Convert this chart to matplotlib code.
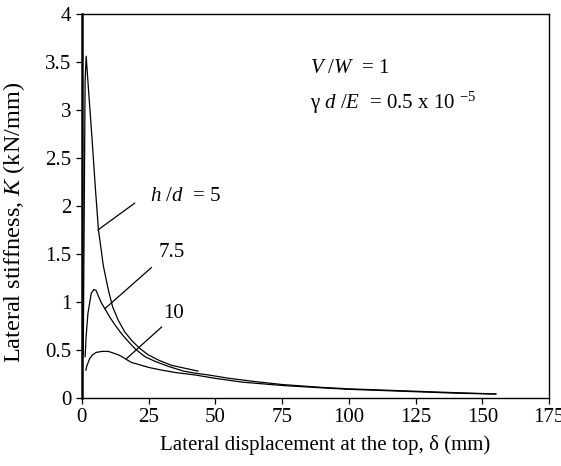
import matplotlib
matplotlib.use('Agg')
import matplotlib.pyplot as plt

plt.rcParams['font.family'] = ['Liberation Serif', 'DejaVu Serif']
plt.rcParams['mathtext.fontset'] = 'custom'
plt.rcParams['mathtext.rm'] = 'Liberation Serif'
plt.rcParams['mathtext.it'] = 'Liberation Serif:italic'

h5_x = [0.5, 1.2, 1.6, 2.5, 3.9, 5.0, 6.2, 6.7, 8, 9.9, 11.5, 13.6, 16, 18.6,
        21.5, 24.8, 29, 33.6, 38.5, 43.5]
h5_k = [0.45, 3.3, 3.56, 3.2, 2.66, 2.2, 1.75, 1.65, 1.38, 1.125, 0.95, 0.81,
        0.69, 0.60, 0.52, 0.45, 0.39, 0.34, 0.31, 0.28]

h75_x = [1.2, 1.6, 2.25, 3.5, 4.5, 5.3, 6.2, 7.3, 8.6, 10.5, 12.4, 14.8, 17.3,
         20, 23.6, 27.5, 32.3, 38, 42, 47.3, 55, 65, 75, 90, 100, 115, 125,
         140, 155]
h75_k = [0.43, 0.65, 0.88, 1.09, 1.13, 1.12, 1.06, 0.99, 0.93, 0.84, 0.76, 0.67,
         0.59, 0.51, 0.43, 0.38, 0.33, 0.28, 0.26, 0.24, 0.205, 0.17, 0.14,
         0.11, 0.095, 0.08, 0.07, 0.055, 0.042]

h10_x = [1.5, 1.8, 2.9, 4, 5.4, 7.5, 9.9, 11.5, 13.6, 15.3, 16.7, 18.6, 20.5,
         22.3, 25.5, 29.9, 35, 42.3, 49.8, 60, 75, 90, 100, 115, 125, 140, 155]
h10_k = [0.29, 0.33, 0.41, 0.45, 0.475, 0.485, 0.485, 0.47, 0.45, 0.425, 0.40,
         0.37, 0.355, 0.34, 0.315, 0.29, 0.265, 0.24, 0.205, 0.165, 0.13, 0.105,
         0.09, 0.075, 0.065, 0.05, 0.04]

fig = plt.figure(figsize=(5.61, 4.66), dpi=100)
ax = fig.add_axes([0.146, 0.146, 0.833, 0.824])

for xs, ks in [(h5_x, h5_k), (h75_x, h75_k), (h10_x, h10_k)]:
    ax.plot(xs, ks, color='black', lw=0.9)

# curve labels with leader lines
fs = 15
line = dict(arrowstyle='-', color='black', lw=0.9, shrinkA=0, shrinkB=0)
ax.annotate('', xy=(6.0, 1.75), xytext=(19.8, 2.03), arrowprops=line)
ax.text(25.5, 2.1, '$h$ /$d$  = 5', fontsize=fs, va='center', ha='left')
ax.annotate('', xy=(8.6, 0.93), xytext=(26.1, 1.36), arrowprops=line)
ax.text(28.6, 1.52, '7.5', fontsize=fs, va='center', ha='left')
ax.annotate('', xy=(16.7, 0.41), xytext=(29.9, 0.74), arrowprops=line)
ax.text(30.5, 0.88, '10', fontsize=fs, va='center', ha='left')

ax.text(85.4, 3.43, '$V$ /$W$  = 1', fontsize=fs, va='center', ha='left')
ax.text(85.4, 3.07, 'γ $d$ /$E$  = 0.5 x 10 $^{-5}$', fontsize=fs,
        va='center', ha='left')

ax.set_xlim(0, 175)
ax.set_ylim(0, 4)
ax.set_xticks([0, 25, 50, 75, 100, 125, 150, 175])
ax.set_yticks([0, 0.5, 1, 1.5, 2, 2.5, 3, 3.5, 4])
ax.set_yticklabels(['0', '0.5', '1', '1.5', '2', '2.5', '3', '3.5', '4'])
ax.tick_params(direction='out', length=4, width=0.9, labelsize=fs)
for s in ax.spines.values():
    s.set_linewidth(1.0)
ax.spines['left'].set_linewidth(1.8)

ax.set_xlabel('Lateral displacement at the top, δ (mm)', fontsize=fs)
ax.set_ylabel('Lateral stiffness, $K$ (kN/mm)', fontsize=17.5)
ax.xaxis.set_label_coords(0.52, -0.096)
ax.yaxis.set_label_coords(-0.118, 0.456)

fig.savefig('out.png', dpi=100)
